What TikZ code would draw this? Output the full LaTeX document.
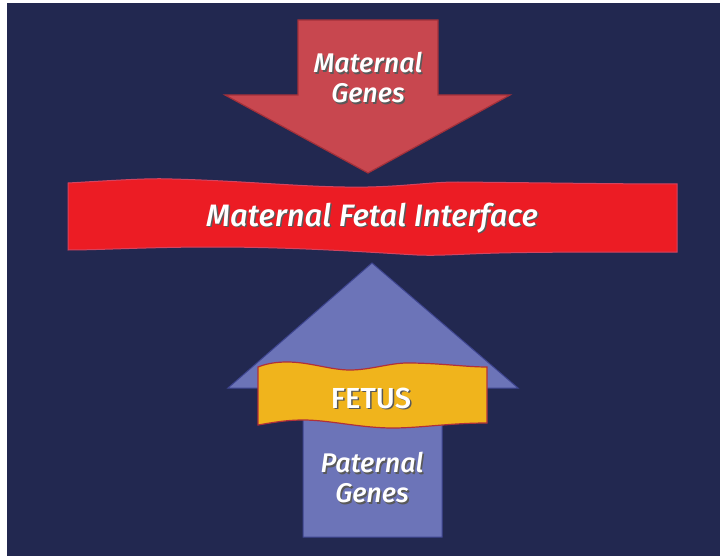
\documentclass[tikz,border=0pt]{standalone}
\usepackage{fontspec}
\setmainfont{Fira Sans}[BoldFont={Fira Sans Medium}, BoldItalicFont={Fira Sans Medium Italic}]
\definecolor{navy}{HTML}{222850}
\definecolor{matred}{HTML}{C8474F}
\definecolor{matedge}{HTML}{A3303A}
\definecolor{bandred}{HTML}{EC1C24}
\definecolor{bandedge}{HTML}{D34460}
\definecolor{patblue}{HTML}{6C74B8}
\definecolor{patedge}{HTML}{3E4590}
\definecolor{fetusgold}{HTML}{F0B41C}
\definecolor{fetusedge}{HTML}{B0303A}
\tikzset{
  genetext/.style={text=white, font=\bfseries\itshape\fontsize{27}{30}\selectfont, align=center},
  bandtext/.style={text=white, font=\bfseries\itshape\fontsize{31}{32}\selectfont},
  fetustext/.style={text=white, font=\bfseries\fontsize{29}{30}\selectfont},
  shadowed/.style={text=black!65}
}

\begin{document}
\begin{tikzpicture}[x=1pt,y=-1pt]
            \fill[white] (0,0) rectangle (720,556);
            \fill[navy] (7,3) rectangle (720,556);

            \draw[matedge, fill=matred, line width=1.2pt] (298,20) -- (438,20) -- (438,95) -- (510,95)
                -- (368,173) -- (225,95) -- (298,95) -- cycle;
                \node[genetext, shadowed] (matshadow) at (369.5,79.5) {Maternal\\Genes};
                \node[genetext] (matgenes) at (368,78) {Maternal\\Genes};

            \draw[bandedge, fill=bandred, line width=1pt] (68,183)
                .. controls (120,180) and (150,178) .. (172,179)
                .. controls (250,181) and (310,188) .. (368,187)
                .. controls (410,186) and (430,182) .. (458,182)
                .. controls (560,183) and (620,184) .. (677,184)
                -- (677,252)
                .. controls (600,252) and (540,252) .. (499,253)
                .. controls (460,254) and (440,256) .. (417,255)
                .. controls (380,253) and (300,247) .. (213,247)
                .. controls (150,247) and (100,250) .. (68,250) -- cycle;
                \node[bandtext, shadowed] (ifshadow) at (373.5,219.5) {Maternal Fetal Interface};
                \node[bandtext] (interface) at (372,218) {Maternal Fetal Interface};

            \draw[patedge, fill=patblue, line width=1pt] (372,263) -- (518,388) -- (442,388) -- (442,537)
                -- (303,537) -- (303,388) -- (228,388) -- cycle;

            \draw[fetusedge, fill=fetusgold, line width=1.2pt] (258,367)
                .. controls (268,363) and (278,362) .. (287,362)
                .. controls (310,362) and (330,370) .. (350,370)
                .. controls (370,370) and (390,363) .. (407,363)
                .. controls (440,363) and (465,367) .. (487,367)
                -- (487,423)
                .. controls (450,423) and (420,428) .. (393,428)
                .. controls (360,428) and (330,420) .. (303,420)
                .. controls (285,420) and (270,423) .. (258,425) -- cycle;
                \node[fetustext, shadowed] (fetusshadow) at (372.5,399.5) {FETUS};
                \node[fetustext] (fetus) at (371,398) {FETUS};

                \node[genetext, shadowed] (patshadow) at (373.5,479.5) {Paternal\\Genes};
                \node[genetext] (patgenes) at (372,478) {Paternal\\Genes};
\end{tikzpicture}
\end{document}
